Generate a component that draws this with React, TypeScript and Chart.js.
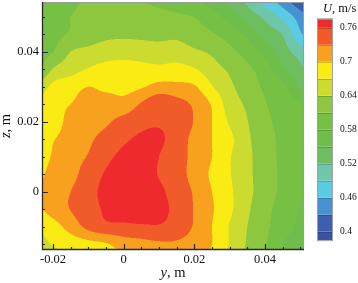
import { useEffect, useRef } from "react";
import { Chart, registerables } from "chart.js";

Chart.register(...registerables);

// ---- data ----
const Y_VALUES = [-0.025, -0.02, -0.015, -0.01, -0.005, 0, 0.005, 0.01, 0.015, 0.02, 0.025, 0.03, 0.035, 0.04, 0.045, 0.05, 0.055];
const Z_VALUES = [0.055, 0.05, 0.045, 0.04, 0.035, 0.03, 0.025, 0.02, 0.015, 0.01, 0.005, 0, -0.005, -0.01, -0.015, -0.02];
const U_GRID = [
  [0.590, 0.597, 0.605, 0.613, 0.617, 0.616, 0.610, 0.601, 0.593, 0.584, 0.566, 0.537, 0.511, 0.476, 0.444, 0.405, 0.385],
  [0.592, 0.601, 0.610, 0.617, 0.622, 0.625, 0.624, 0.620, 0.615, 0.609, 0.593, 0.567, 0.539, 0.513, 0.482, 0.445, 0.405],
  [0.595, 0.603, 0.613, 0.624, 0.633, 0.635, 0.634, 0.632, 0.633, 0.622, 0.613, 0.597, 0.572, 0.539, 0.518, 0.465, 0.430],
  [0.600, 0.610, 0.640, 0.648, 0.655, 0.657, 0.655, 0.653, 0.655, 0.645, 0.635, 0.617, 0.598, 0.570, 0.534, 0.505, 0.475],
  [0.595, 0.642, 0.658, 0.672, 0.680, 0.683, 0.680, 0.677, 0.680, 0.672, 0.652, 0.635, 0.616, 0.595, 0.556, 0.527, 0.500],
  [0.645, 0.678, 0.688, 0.700, 0.692, 0.690, 0.697, 0.710, 0.708, 0.703, 0.672, 0.646, 0.625, 0.605, 0.588, 0.545, 0.520],
  [0.672, 0.690, 0.700, 0.712, 0.718, 0.712, 0.733, 0.755, 0.742, 0.725, 0.697, 0.656, 0.635, 0.612, 0.597, 0.583, 0.570],
  [0.672, 0.685, 0.710, 0.718, 0.726, 0.740, 0.752, 0.757, 0.750, 0.728, 0.700, 0.666, 0.641, 0.617, 0.602, 0.592, 0.585],
  [0.678, 0.698, 0.712, 0.725, 0.740, 0.755, 0.765, 0.765, 0.745, 0.722, 0.700, 0.677, 0.645, 0.623, 0.603, 0.594, 0.588],
  [0.680, 0.703, 0.718, 0.732, 0.752, 0.768, 0.775, 0.760, 0.742, 0.722, 0.700, 0.672, 0.647, 0.624, 0.604, 0.595, 0.590],
  [0.690, 0.710, 0.720, 0.745, 0.763, 0.780, 0.780, 0.758, 0.742, 0.720, 0.695, 0.672, 0.647, 0.625, 0.605, 0.595, 0.588],
  [0.697, 0.716, 0.730, 0.752, 0.767, 0.785, 0.785, 0.768, 0.745, 0.727, 0.700, 0.675, 0.648, 0.625, 0.603, 0.585, 0.570],
  [0.693, 0.712, 0.731, 0.748, 0.765, 0.782, 0.785, 0.772, 0.750, 0.728, 0.703, 0.676, 0.645, 0.619, 0.598, 0.578, 0.560],
  [0.673, 0.688, 0.712, 0.738, 0.752, 0.752, 0.755, 0.757, 0.747, 0.727, 0.700, 0.668, 0.640, 0.616, 0.594, 0.572, 0.550],
  [0.655, 0.672, 0.682, 0.690, 0.697, 0.715, 0.720, 0.725, 0.725, 0.715, 0.700, 0.668, 0.637, 0.613, 0.580, 0.565, 0.550],
  [0.640, 0.655, 0.665, 0.672, 0.680, 0.690, 0.700, 0.705, 0.705, 0.700, 0.690, 0.660, 0.632, 0.608, 0.578, 0.560, 0.545],
];
const LEVELS = [0.4, 0.43, 0.46, 0.49, 0.52, 0.55, 0.58, 0.61, 0.64, 0.67, 0.7, 0.73, 0.76];
const BAND_COLORS = [
  "#3A52A3", "#3D5FAD", "#4594D1", "#5BCBE5", "#70C6A9", "#6EBE60", "#6FBD4A",
  "#76C044", "#8DC63F", "#CBDB2F", "#FBEB14", "#F7A11F", "#F15A29", "#EE2A2E",
];
const X_TICKS = [-0.02, 0, 0.02, 0.04];
const X_MINOR = [-0.015, -0.01, -0.005, 0.005, 0.01, 0.015, 0.025, 0.03, 0.035, 0.045, 0.05];
const Y_TICKS = [0, 0.02, 0.04];
const Y_MINOR = [-0.015, -0.01, -0.005, 0.005, 0.01, 0.015, 0.025, 0.03, 0.035, 0.045, 0.05];
const CB_TICKS = [0.4, 0.46, 0.52, 0.58, 0.64, 0.7, 0.76];
const X_TITLE = [{ text: "y", italic: true }, { text: ", m", italic: false }];
const Y_TITLE = [{ text: "z", italic: true }, { text: ", m", italic: false }];
const CB_TITLE = [{ text: "U", italic: true }, { text: ", m/s", italic: false }];

const FONT = "'Liberation Serif', 'Times New Roman', serif";

function hexToRgb(h: string) {
  const n = parseInt(h.slice(1), 16);
  return [(n >> 16) & 255, (n >> 8) & 255, n & 255];
}

function cr(p0: number, p1: number, p2: number, p3: number, t: number) {
  return 0.5 * (2 * p1 + (-p0 + p2) * t + (2 * p0 - 5 * p1 + 4 * p2 - p3) * t * t + (-p0 + 3 * p1 - 3 * p2 + p3) * t * t * t);
}

function sampleU(yv: number, zv: number) {
  const nc = Y_VALUES.length, nr = Z_VALUES.length;
  const fx = (yv - Y_VALUES[0]) / (Y_VALUES[1] - Y_VALUES[0]);
  const fz = (Z_VALUES[0] - zv) / (Z_VALUES[0] - Z_VALUES[1]);
  const ix = Math.max(0, Math.min(nc - 2, Math.floor(fx)));
  const iz = Math.max(0, Math.min(nr - 2, Math.floor(fz)));
  const tx = fx - ix, tz = fz - iz;
  const cl = (i: number, n: number) => Math.max(0, Math.min(n - 1, i));
  const rows: number[] = [];
  for (let k = -1; k <= 2; k++) {
    const r = U_GRID[cl(iz + k, nr)];
    rows.push(cr(r[cl(ix - 1, nc)], r[cl(ix, nc)], r[cl(ix + 1, nc)], r[cl(ix + 2, nc)], tx));
  }
  return cr(rows[0], rows[1], rows[2], rows[3], tz);
}

function drawMixed(ctx: CanvasRenderingContext2D, parts: { text: string; italic: boolean }[], size: number, x: number, y: number, align: "center" | "left") {
  const fonts = parts.map((p) => `${p.italic ? "italic " : ""}${size}px ${FONT}`);
  const widths = parts.map((p, i) => {
    ctx.font = fonts[i];
    return ctx.measureText(p.text).width;
  });
  const total = widths.reduce((a, b) => a + b, 0);
  let cx = align === "center" ? x - total / 2 : x;
  ctx.textAlign = "left";
  ctx.textBaseline = "middle";
  parts.forEach((p, i) => {
    ctx.font = fonts[i];
    ctx.fillText(p.text, cx, y);
    cx += widths[i];
  });
}

const contourPlugin = {
  id: "contour",
  beforeDatasetsDraw(chart: any) {
    const { ctx, chartArea, scales } = chart;
    const { left, top, right, bottom } = chartArea;
    const sx = scales.x, sy = scales.y;
    const ss = 2;
    const w = Math.round(right - left), h = Math.round(bottom - top);
    const off = document.createElement("canvas");
    off.width = w * ss;
    off.height = h * ss;
    const octx = off.getContext("2d")!;
    const img = octx.createImageData(w * ss, h * ss);
    const rgb = BAND_COLORS.map(hexToRgb);
    for (let j = 0; j < h * ss; j++) {
      const zv = sy.getValueForPixel(top + (j + 0.5) / ss);
      for (let i = 0; i < w * ss; i++) {
        const yv = sx.getValueForPixel(left + (i + 0.5) / ss);
        const u = sampleU(yv, zv);
        let b = 0;
        while (b < LEVELS.length && u >= LEVELS[b]) b++;
        const c = rgb[b];
        const o = (j * w * ss + i) * 4;
        img.data[o] = c[0];
        img.data[o + 1] = c[1];
        img.data[o + 2] = c[2];
        img.data[o + 3] = 255;
      }
    }
    octx.putImageData(img, 0, 0);
    ctx.save();
    ctx.imageSmoothingEnabled = true;
    (ctx as any).imageSmoothingQuality = "high";
    ctx.drawImage(off, left, top, w, h);
    ctx.restore();
  },
  afterDraw(chart: any) {
    const { ctx, chartArea, scales } = chart;
    const { left, top, right, bottom } = chartArea;
    const sx = scales.x, sy = scales.y, cb = scales.cb;
    ctx.save();
    // frame
    ctx.strokeStyle = "#9a9a9a";
    ctx.lineWidth = 1;
    ctx.beginPath();
    ctx.moveTo(left, top + 0.5);
    ctx.lineTo(right - 0.5, top + 0.5);
    ctx.lineTo(right - 0.5, bottom);
    ctx.stroke();
    ctx.strokeStyle = "#2a2a2a";
    ctx.lineWidth = 1.3;
    ctx.beginPath();
    ctx.moveTo(left + 0.5, top);
    ctx.lineTo(left + 0.5, bottom - 0.5);
    ctx.lineTo(right, bottom - 0.5);
    ctx.stroke();
    // ticks
    ctx.lineWidth = 1.2;
    ctx.beginPath();
    X_TICKS.forEach((v) => { const p = Math.round(sx.getPixelForValue(v)) + 0.5; ctx.moveTo(p, bottom); ctx.lineTo(p, bottom - 6); });
    X_MINOR.forEach((v) => { const p = Math.round(sx.getPixelForValue(v)) + 0.5; ctx.moveTo(p, bottom); ctx.lineTo(p, bottom - 3); });
    Y_TICKS.forEach((v) => { const p = Math.round(sy.getPixelForValue(v)) + 0.5; ctx.moveTo(left, p); ctx.lineTo(left + 6, p); });
    Y_MINOR.forEach((v) => { const p = Math.round(sy.getPixelForValue(v)) + 0.5; ctx.moveTo(left, p); ctx.lineTo(left + 3, p); });
    ctx.stroke();

    // colorbar
    const half = (LEVELS[1] - LEVELS[0]) / 2;
    const cx0 = cb.left + 14, cw = 14;
    for (let k = 0; k < BAND_COLORS.length; k++) {
      const lo = k === 0 ? LEVELS[0] - half : LEVELS[k - 1];
      const hi = k === BAND_COLORS.length - 1 ? LEVELS[LEVELS.length - 1] + half : LEVELS[k];
      const y1 = cb.getPixelForValue(hi), y2 = cb.getPixelForValue(lo);
      ctx.fillStyle = BAND_COLORS[k];
      ctx.fillRect(cx0, y1, cw, y2 - y1);
    }
    ctx.strokeStyle = "rgba(0,0,0,0.18)";
    ctx.lineWidth = 1;
    ctx.beginPath();
    LEVELS.forEach((v) => { const p = Math.round(cb.getPixelForValue(v)) + 0.5; ctx.moveTo(cx0, p); ctx.lineTo(cx0 + cw, p); });
    ctx.stroke();
    const yt = cb.getPixelForValue(LEVELS[LEVELS.length - 1] + half);
    const yb = cb.getPixelForValue(LEVELS[0] - half);
    ctx.strokeStyle = "#a0a0a0";
    ctx.strokeRect(cx0 - 0.5, yt - 0.5, cw + 1, yb - yt + 1);

    // titles
    ctx.fillStyle = "#111";
    drawMixed(ctx, X_TITLE, 14.5, (left + right) / 2, 273.5, "center");
    ctx.save();
    ctx.translate(6.5, (top + bottom) / 2);
    ctx.rotate(-Math.PI / 2);
    drawMixed(ctx, Y_TITLE, 14.5, 0, 0, "center");
    ctx.restore();
    drawMixed(ctx, CB_TITLE, 12.5, 323, 9, "left");
    ctx.restore();
  },
};

const zeroPad = (s: any) => {
  s.paddingTop = 0;
  s.paddingBottom = 0;
  s.paddingLeft = 0;
  s.paddingRight = 0;
};

export default function App() {
  const ref = useRef<HTMLCanvasElement>(null);
  useEffect(() => {
    if (!ref.current) return;
    const tickFont = { family: FONT, size: 12.5 };
    const chart = new Chart(ref.current, {
      type: "scatter",
      data: { datasets: [{ data: [], pointRadius: 0 }] },
      options: {
        responsive: false,
        animation: false,
        devicePixelRatio: 1,
        layout: { padding: { top: 2, left: 0, right: 0, bottom: 0 } },
        plugins: { legend: { display: false }, tooltip: { enabled: false } },
        scales: {
          x: {
            type: "linear",
            position: "bottom",
            min: -0.02311,
            max: 0.05104,
            grid: { display: false, drawTicks: false },
            border: { display: false },
            afterBuildTicks: (s: any) => { s.ticks = X_TICKS.map((v) => ({ value: v })); },
            afterFit: (s: any) => { s.height = 33; zeroPad(s); },
            ticks: { font: tickFont, color: "#111", padding: 2, maxRotation: 0, autoSkip: false, callback: (v: any) => String(v) },
          },
          y: {
            type: "linear",
            position: "left",
            min: -0.01666,
            max: 0.0542,
            grid: { display: false, drawTicks: false },
            border: { display: false },
            afterBuildTicks: (s: any) => { s.ticks = Y_TICKS.map((v) => ({ value: v })); },
            afterFit: (s: any) => { s.width = 42; zeroPad(s); },
            ticks: { font: tickFont, color: "#111", padding: 3, autoSkip: false, callback: (v: any) => String(v) },
          },
          cb: {
            type: "linear",
            axis: "y",
            position: "right",
            min: 0.3676,
            max: 0.8055,
            grid: { display: false, drawTicks: false },
            border: { display: false },
            afterBuildTicks: (s: any) => { s.ticks = CB_TICKS.map((v) => ({ value: v })); },
            afterFit: (s: any) => { s.width = 54; zeroPad(s); },
            ticks: { font: { family: FONT, size: 9.5 }, color: "#111", padding: 36, autoSkip: false, callback: (v: any) => String(v) },
          },
        } as any,
      },
      plugins: [contourPlugin],
    });
    return () => chart.destroy();
  }, []);
  return (
    <div style={{ position: "fixed", left: 0, top: 0, width: 358, height: 283, background: "#fff" }}>
      <canvas ref={ref} width={358} height={283} style={{ display: "block" }} />
    </div>
  );
}
